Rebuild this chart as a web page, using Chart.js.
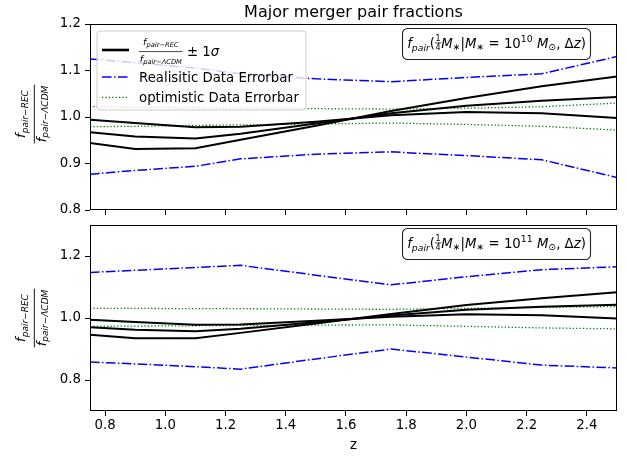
<!DOCTYPE html>
<html><head><meta charset="utf-8">
<script src="https://cdn.jsdelivr.net/npm/chart.js@4.4.1/dist/chart.umd.min.js"></script>
<style>
html,body{margin:0;padding:0;background:#fff;}
#wrap{position:relative;width:627px;height:456px;overflow:hidden;}
canvas{position:absolute;left:0;}
</style>
</head><body>
<div id="wrap">
<canvas id="c1" width="627" height="218" style="top:0;width:627px;height:218px"></canvas>
<canvas id="c2" width="627" height="238" style="top:218px;width:627px;height:238px"></canvas>
</div>
<script>
// ---- data ----
const z = [0.75, 0.9, 1.1, 1.25, 1.5, 1.75, 2.0, 2.25, 2.5];
const xTicks = [0.8, 1.0, 1.2, 1.4, 1.6, 1.8, 2.0, 2.2, 2.4];
const yTicksTop = [0.8, 0.9, 1.0, 1.1, 1.2];
const yTicksBottom = [0.8, 1.0, 1.2];

// top panel (M* = 1e10)
const ratioA_10 = [0.994, 0.987, 0.978, 0.979, 0.990, 1.004, 1.011, 1.008, 0.998];
const ratioB_10 = [0.967, 0.958, 0.954, 0.964, 0.986, 1.008, 1.024, 1.035, 1.043];
const ratioC_10 = [0.944, 0.931, 0.933, 0.951, 0.981, 1.013, 1.041, 1.066, 1.087];
const realUp_10 = [1.125, 1.117, 1.105, 1.093, 1.082, 1.076, 1.085, 1.093, 1.130];
const realLo_10 = [0.877, 0.885, 0.894, 0.910, 0.920, 0.925, 0.917, 0.908, 0.870];
const optUp_10  = [1.0225, 1.021, 1.020, 1.019, 1.018, 1.017, 1.019, 1.022, 1.030];
const optLo_10  = [0.979, 0.980, 0.982, 0.983, 0.985, 0.987, 0.984, 0.980, 0.972];

// bottom panel (M* = 1e11)
const ratioA_11 = [0.994, 0.987, 0.978, 0.979, 0.991, 1.004, 1.012, 1.009, 0.998];
const ratioB_11 = [0.970, 0.962, 0.957, 0.965, 0.986, 1.008, 1.027, 1.036, 1.043];
const ratioC_11 = [0.946, 0.935, 0.935, 0.952, 0.982, 1.013, 1.042, 1.064, 1.083];
const realUp_11 = [1.147, 1.154, 1.163, 1.170, 1.138, 1.107, 1.133, 1.156, 1.165];
const realLo_11 = [0.858, 0.852, 0.843, 0.835, 0.868, 0.900, 0.874, 0.848, 0.839];
const optUp_11  = [1.031, 1.031, 1.030, 1.030, 1.029, 1.028, 1.031, 1.034, 1.037];
const optLo_11  = [0.973, 0.974, 0.975, 0.976, 0.977, 0.978, 0.973, 0.968, 0.965];

const titleText = 'Major merger pair fractions';
const legendReal = 'Realisitic Data Errorbar';
const legendOpt = 'optimistic Data Errorbar';

// ---- styles ----
const FF = '"DejaVu Sans"';
const BLUE = '#0000ff', GREEN = '#008000';
const blackStyle = {borderColor:'#000', borderWidth:2};
const blueStyle = {borderColor:BLUE, borderWidth:1.5, borderDash:[9.6,2.4,1.5,2.4]};
const greenStyle = {borderColor:GREEN, borderWidth:1.3, borderDash:[1.3,2.1]};

function pts(arr){ return z.map((v,i)=>({x:v, y:arr[i]})); }
function ds(arr, st){ return Object.assign({data:pts(arr), pointRadius:0, fill:false, tension:0}, st); }

// ---- math text helpers ----
function setF(ctx, px, it){ ctx.font = (it?'italic ':'') + px + 'px ' + FF; }
function itemW(ctx, t){
  if (t.frac){ return Math.max(seqW(ctx,t.frac[0]), seqW(ctx,t.frac[1])) + 2*(t.pad||0); }
  setF(ctx, t.px, t.it); return ctx.measureText(t.t).width + (t.gap||0);
}
function seqW(ctx, items){ let w=0; for(const t of items) w += itemW(ctx,t); return w; }
function seqDraw(ctx, items, x, y){
  for (const t of items){
    const w = itemW(ctx,t);
    if (t.frac){
      const n = t.frac[0], d = t.frac[1];
      const nw = seqW(ctx,n), dw = seqW(ctx,d);
      seqDraw(ctx, n, x + (w-nw)/2, y + t.nb);
      seqDraw(ctx, d, x + (w-dw)/2, y + t.db);
      ctx.fillRect(x, y + t.bar - (t.bw||0.8)/2, w, t.bw||0.8);
    } else {
      setF(ctx, t.px, t.it);
      ctx.fillText(t.t, x, y + (t.dy||0));
    }
    x += w;
  }
  return x;
}
function fpair(fs, ss, sub, sdy){ return [{t:'f',px:fs,it:true},{t:sub,px:ss,it:true,dy:sdy}]; }

function roundRect(ctx, x, y, w, h, r){
  ctx.beginPath();
  ctx.moveTo(x+r,y); ctx.lineTo(x+w-r,y); ctx.arcTo(x+w,y,x+w,y+r,r);
  ctx.lineTo(x+w,y+h-r); ctx.arcTo(x+w,y+h,x+w-r,y+h,r);
  ctx.lineTo(x+r,y+h); ctx.arcTo(x,y+h,x,y+h-r,r);
  ctx.lineTo(x,y+r); ctx.arcTo(x,y,x+r,y,r); ctx.closePath();
}

function drawYLabel(ctx, cy){
  const num = fpair(13, 9, 'pair−REC', 2.6);
  const den = fpair(13, 9, 'pair−ΛCDM', 2.6);
  const item = {frac:[num,den], nb:-9, db:11.5, bar:0, pad:1, bw:0.9};
  ctx.save();
  ctx.translate(34.3, cy);
  ctx.rotate(-Math.PI/2);
  ctx.fillStyle = '#000'; ctx.textBaseline = 'alphabetic';
  const w = itemW(ctx,item);
  seqDraw(ctx, [item], -w/2, 0);
  ctx.restore();
}

function drawAnnot(ctx, y0, exp){
  const S = 13.3, s = 9.3;
  const items = [
    {t:'f',px:S,it:true},{t:'pair',px:s,it:true,dy:3},
    {t:'(',px:S},
    {frac:[[{t:'1',px:8}],[{t:'4',px:8}]], bar:-4.6, nb:-6.3, db:2.9, pad:0.6, bw:0.7},
    {t:'M',px:S,it:true},{t:'∗',px:s,dy:2.2},
    {t:'|',px:S},
    {t:'M',px:S,it:true},{t:'∗',px:s,dy:2.2},
    {t:' = 10',px:S},{t:exp,px:s,dy:-5.6},
    {t:' ',px:S},{t:'M',px:S,it:true},{t:'⊙',px:s,dy:2.6},
    {t:', ',px:S},{t:'Δ',px:S},{t:'z',px:S,it:true},{t:')',px:S}
  ];
  ctx.save();
  roundRect(ctx, 402.5, y0+0.5, 188, 31, 5);
  ctx.fillStyle = '#fff'; ctx.fill();
  ctx.strokeStyle = '#222'; ctx.lineWidth = 1.1; ctx.stroke();
  ctx.fillStyle = '#000'; ctx.textBaseline = 'alphabetic';
  const w = seqW(ctx, items);
  seqDraw(ctx, items, 496.5 - w/2, y0 + 19.5);
  ctx.restore();
}

function drawLegend(ctx){
  ctx.save();
  roundRect(ctx, 97, 31, 209, 79, 3);
  ctx.fillStyle = 'rgba(255,255,255,0.8)'; ctx.fill();
  ctx.strokeStyle = '#cccccc'; ctx.lineWidth = 1; ctx.stroke();
  // entry 1
  ctx.strokeStyle = '#000'; ctx.lineWidth = 2.6; ctx.setLineDash([]);
  ctx.beginPath(); ctx.moveTo(102, 50); ctx.lineTo(129, 50); ctx.stroke();
  ctx.fillStyle = '#000'; ctx.textBaseline = 'alphabetic';
  const num = fpair(9.5, 6.7, 'pair−REC', 1.8);
  const den = fpair(9.5, 6.7, 'pair−ΛCDM', 1.8);
  const fr = {frac:[num,den], nb:-7, db:10.3, bar:0, pad:0.8, bw:0.7};
  let x = seqDraw(ctx, [fr], 139, 51.7);
  seqDraw(ctx, [{t:' ± 1',px:13.3},{t:'σ',px:13.3,it:true}], x, 55.5);
  // entry 2
  ctx.strokeStyle = BLUE; ctx.lineWidth = 1.5; ctx.setLineDash([9.6,2.4,1.5,2.4]);
  ctx.beginPath(); ctx.moveTo(102, 77); ctx.lineTo(129, 77); ctx.stroke();
  setF(ctx, 13.3, false); ctx.fillText(legendReal, 139, 82);
  // entry 3
  ctx.strokeStyle = GREEN; ctx.lineWidth = 1.3; ctx.setLineDash([1.3,2.1]);
  ctx.beginPath(); ctx.moveTo(102, 97.3); ctx.lineTo(129, 97.3); ctx.stroke();
  ctx.fillText(legendOpt, 139, 101.8);
  ctx.restore();
}

function frame(chart){
  const a = chart.chartArea, ctx = chart.ctx;
  ctx.save(); ctx.strokeStyle = '#000'; ctx.lineWidth = 1; ctx.setLineDash([]);
  ctx.strokeRect(Math.round(a.left)+0.5, Math.round(a.top)+0.5, Math.round(a.right-a.left)-1, Math.round(a.bottom-a.top)-1);
  ctx.restore();
}

function scales(ymin, ymax, yt, xH, showX){
  const tickFont = {family:'DejaVu Sans', size:13.3};
  const grid = {drawOnChartArea:false, drawTicks:true, tickLength:5, color:'#000', tickColor:'#000', tickWidth:1};
  return {
    x:{type:'linear', min:0.75, max:2.5,
       afterBuildTicks:s=>{ s.ticks = xTicks.map(v=>({value:v})); },
       ticks:{color: showX?'#000':'rgba(0,0,0,0)', font:tickFont, padding:2, maxRotation:0, minRotation:0, autoSkip:false,
              callback:v=>Number(v).toFixed(1)},
       grid:grid, border:{display:false},
       afterFit:s=>{ s.height = xH; s.paddingLeft = 0; s.paddingRight = 0; }},
    y:{type:'linear', min:ymin, max:ymax,
       afterBuildTicks:s=>{ s.ticks = yt.map(v=>({value:v})); },
       ticks:{color:'#000', font:tickFont, padding:4, autoSkip:false, callback:v=>Number(v).toFixed(1)},
       grid:grid, border:{display:false},
       afterFit:s=>{ s.width = 90; s.paddingTop = 0; s.paddingBottom = 0; }}
  };
}

const common = {responsive:false, animation:false, devicePixelRatio:1,
  plugins:{legend:{display:false}, tooltip:{enabled:false}, title:{display:false}}};

new Chart(document.getElementById('c1'), {
  type:'line',
  data:{datasets:[
    ds(ratioA_10, blackStyle), ds(ratioB_10, blackStyle), ds(ratioC_10, blackStyle),
    ds(realUp_10, blueStyle), ds(realLo_10, blueStyle),
    ds(optUp_10, greenStyle), ds(optLo_10, greenStyle)
  ]},
  options:Object.assign({}, common, {
    layout:{padding:{left:0, right:10, top:24, bottom:0}},
    scales:scales(0.8, 1.2, yTicksTop, 8, false)
  }),
  plugins:[{id:'deco1', afterDraw(chart){
    const ctx = chart.ctx;
    frame(chart);
    drawLegend(ctx);
    drawAnnot(ctx, 28, '10');
    drawYLabel(ctx, 114);
    ctx.save(); ctx.fillStyle = '#000'; ctx.font = '16px ' + FF; ctx.textAlign = 'center'; ctx.textBaseline = 'alphabetic';
    ctx.fillText(titleText, 353.5, 17); ctx.restore();
  }}]
});

new Chart(document.getElementById('c2'), {
  type:'line',
  data:{datasets:[
    ds(ratioA_11, blackStyle), ds(ratioB_11, blackStyle), ds(ratioC_11, blackStyle),
    ds(realUp_11, blueStyle), ds(realLo_11, blueStyle),
    ds(optUp_11, greenStyle), ds(optLo_11, greenStyle)
  ]},
  options:Object.assign({}, common, {
    layout:{padding:{left:0, right:10, top:7, bottom:0}},
    scales:scales(0.7, 1.3, yTicksBottom, 45, true)
  }),
  plugins:[{id:'deco2', afterDraw(chart){
    const ctx = chart.ctx;
    frame(chart);
    drawAnnot(ctx, 10, '11');
    drawYLabel(ctx, 100);
    ctx.save(); ctx.fillStyle = '#000'; ctx.font = '13.3px ' + FF; ctx.textAlign = 'center'; ctx.textBaseline = 'alphabetic';
    ctx.fillText('z', 353.5, 231); ctx.restore();
  }}]
});
</script>
</body></html>
